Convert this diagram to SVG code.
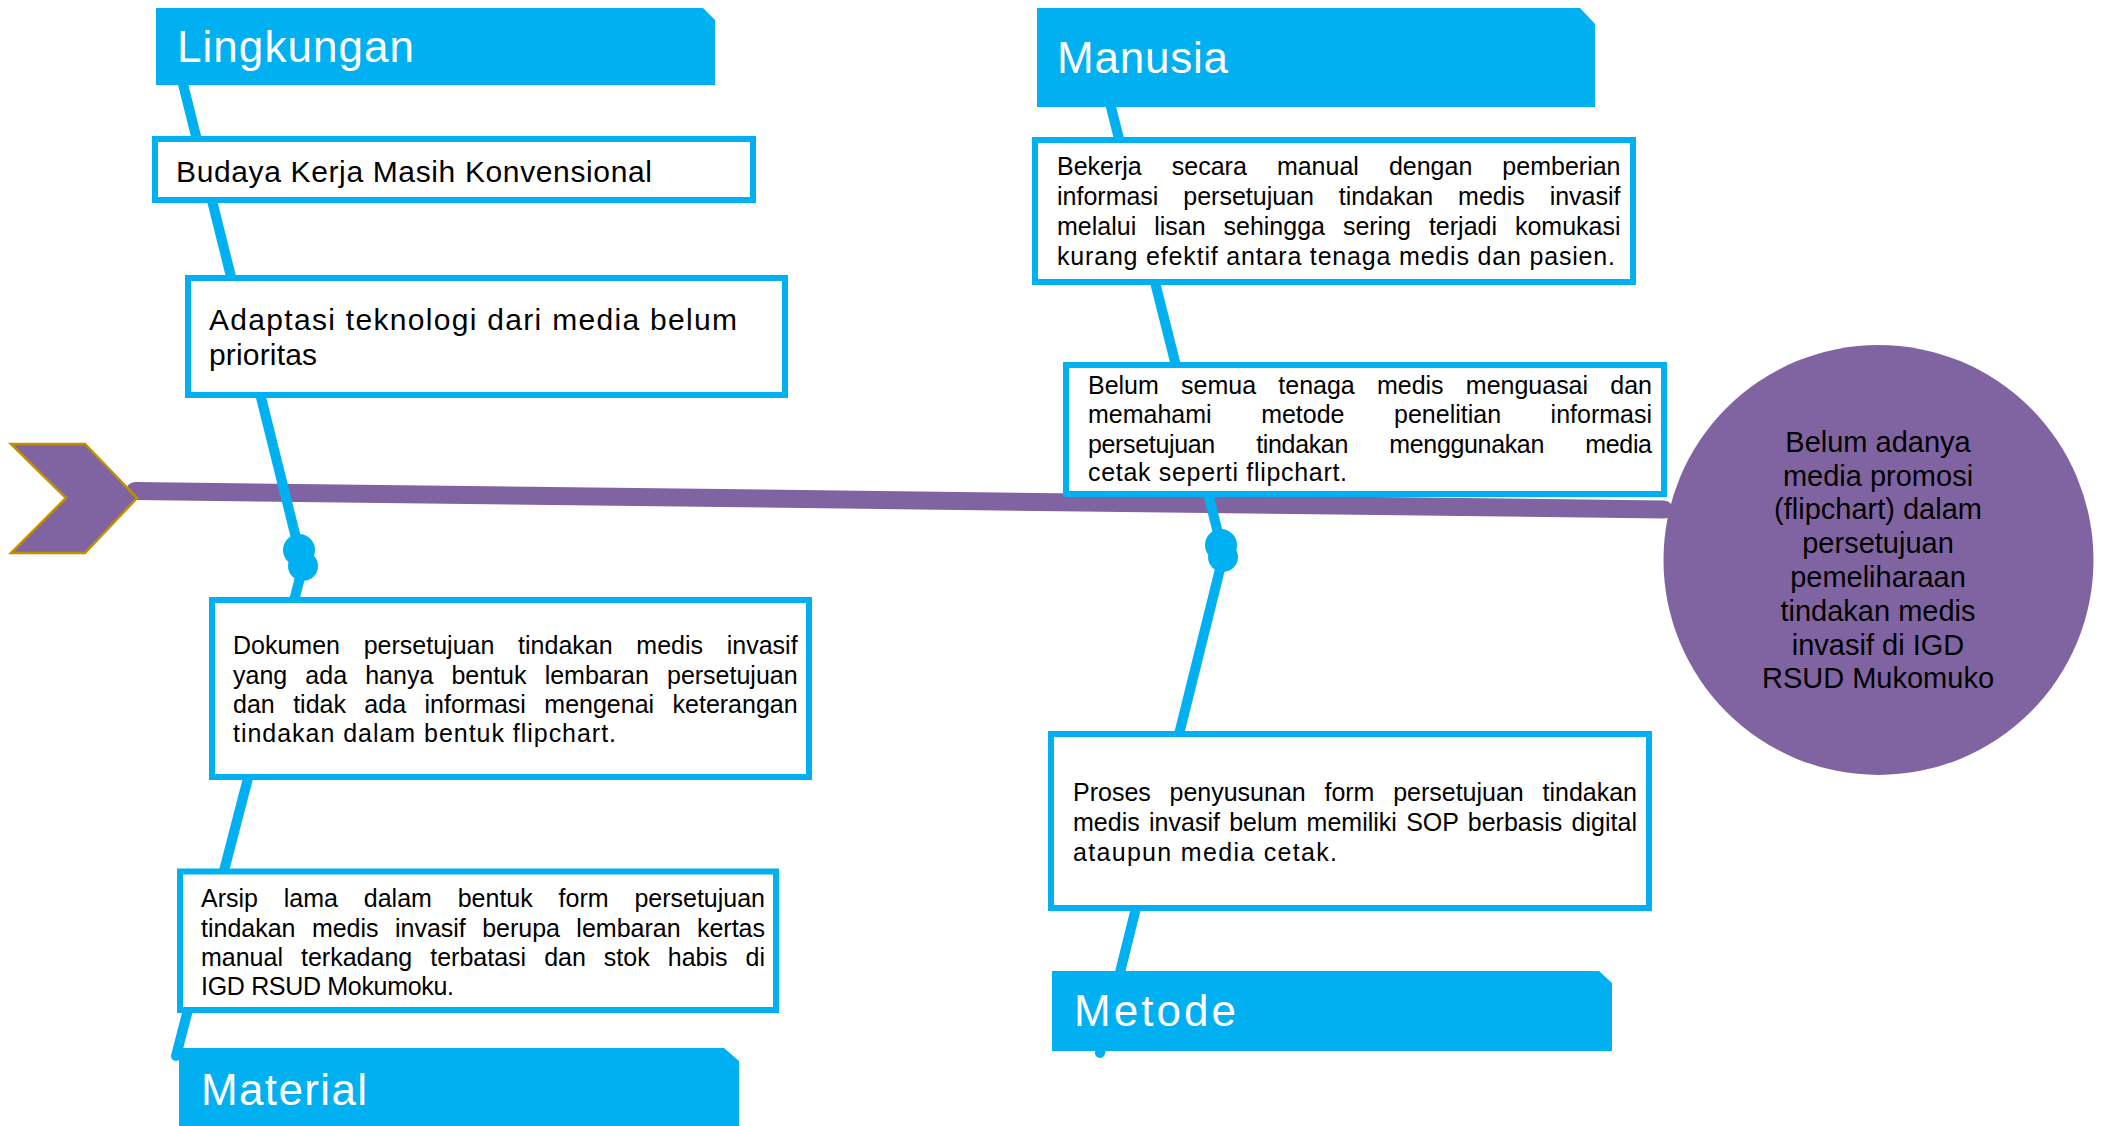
<svg xmlns="http://www.w3.org/2000/svg" width="2103" height="1126" viewBox="0 0 2103 1126">
<style>
.banner{fill:#00B0F0}
.bt{font-family:"Liberation Sans",Arial,sans-serif;font-size:44px;fill:#fff}
.box{fill:#fff;stroke:#00B0F0;stroke-width:6}
.tx{font-family:"Liberation Sans",Arial,sans-serif;font-size:25px;fill:#000}
.tx30{font-family:"Liberation Sans",Arial,sans-serif;font-size:30px;fill:#000}
.bone{stroke:#00B0F0;stroke-width:10;stroke-linecap:round;fill:none}
.dot{fill:#00B0F0}
.ct{font-family:"Liberation Sans",Arial,sans-serif;font-size:29px;fill:#000;text-anchor:middle}
</style>
<rect width="2103" height="1126" fill="#fff"/>
<g id="connectors">
<line x1="135" y1="491" x2="1664" y2="509.5" stroke="#8064A2" stroke-width="18" stroke-linecap="round"/>
<line class="bone" x1="183" y1="84" x2="299" y2="550"/>
<line class="bone" x1="303" y1="566" x2="176" y2="1056"/>
<line class="bone" x1="1111" y1="107" x2="1221" y2="545"/>
<line class="bone" x1="1223" y1="557" x2="1100" y2="1053"/>
<circle class="dot" cx="299" cy="550" r="16"/>
<circle class="dot" cx="303" cy="566" r="15"/>
<circle class="dot" cx="1221" cy="545" r="16"/>
<circle class="dot" cx="1223" cy="557" r="15"/>
</g>
<g id="tail">
<polygon points="11,444 85,444 137,498 85,553 11,553 66,498" fill="#8064A2" stroke="#BF9000" stroke-width="2.5"/>
</g>
<g id="head">
<circle cx="1878.5" cy="560" r="215" fill="#8064A2"/>
<text class="ct"><tspan x="1878" y="452">Belum adanya</tspan><tspan x="1878" y="486">media promosi</tspan><tspan x="1878" y="519">(flipchart) dalam</tspan><tspan x="1878" y="553">persetujuan</tspan><tspan x="1878" y="587">pemeliharaan</tspan><tspan x="1878" y="621">tindakan medis</tspan><tspan x="1878" y="655">invasif di IGD</tspan><tspan x="1878" y="688">RSUD Mukomuko</tspan></text>
</g>
<g id="lingkungan">
<polygon class="banner" points="156,8 703,8 715,20 715,85 156,85"/>
<text class="bt" x="177" y="62" textLength="237" lengthAdjust="spacing">Lingkungan</text>
</g>
<g id="budaya">
<rect class="box" x="155" y="139" width="598" height="61"/>
<text class="tx30" x="176" y="182" textLength="476" lengthAdjust="spacing">Budaya Kerja Masih Konvensional</text>
</g>
<g id="adaptasi">
<rect class="box" x="188" y="278" width="597" height="117"/>
<text class="tx30" x="209" y="330" textLength="528" lengthAdjust="spacing">Adaptasi teknologi dari media belum</text>
<text class="tx30" x="209" y="365" textLength="108" lengthAdjust="spacing">prioritas</text>
</g>
<g id="dokumen">
<rect class="box" x="212" y="600" width="597" height="177"/>
<text class="tx" x="233" y="654" word-spacing="16.8" textLength="564.6" lengthAdjust="spacing">Dokumen persetujuan tindakan medis invasif</text>
<text class="tx" x="233" y="683.5" word-spacing="11.2" textLength="564.6" lengthAdjust="spacing">yang ada hanya bentuk lembaran persetujuan</text>
<text class="tx" x="233" y="713" word-spacing="11.5" textLength="564.6" lengthAdjust="spacing">dan tidak ada informasi mengenai keterangan</text>
<text class="tx" x="233" y="742" textLength="383" lengthAdjust="spacing">tindakan dalam bentuk flipchart.</text>
</g>
<g id="arsip">
<rect class="box" x="180" y="871.5" width="596" height="138.5"/>
<text class="tx" x="201" y="907" word-spacing="18.9" textLength="564" lengthAdjust="spacing">Arsip lama dalam bentuk form persetujuan</text>
<text class="tx" x="201" y="936.5" word-spacing="9.4" textLength="564" lengthAdjust="spacing">tindakan medis invasif berupa lembaran kertas</text>
<text class="tx" x="201" y="966" word-spacing="11.1" textLength="564" lengthAdjust="spacing">manual terkadang terbatasi dan stok habis di</text>
<text class="tx" x="201" y="995" textLength="253" lengthAdjust="spacing">IGD RSUD Mokumoku.</text>
</g>
<g id="material">
<polygon class="banner" points="179,1048 724,1048 739,1061 739,1130 179,1130"/>
<text class="bt" x="201" y="1105" textLength="166" lengthAdjust="spacing">Material</text>
</g>
<g id="manusia">
<polygon class="banner" points="1037,8 1580,8 1595,24 1595,107 1037,107"/>
<text class="bt" x="1057" y="73" textLength="171" lengthAdjust="spacing">Manusia</text>
</g>
<g id="bekerja">
<rect class="box" x="1035" y="140" width="598" height="142"/>
<text class="tx" x="1057" y="175" word-spacing="23.1" textLength="563.5" lengthAdjust="spacing">Bekerja secara manual dengan pemberian</text>
<text class="tx" x="1057" y="205" word-spacing="17.9" textLength="563.5" lengthAdjust="spacing">informasi persetujuan tindakan medis invasif</text>
<text class="tx" x="1057" y="235" word-spacing="11" textLength="563.5" lengthAdjust="spacing">melalui lisan sehingga sering terjadi komukasi</text>
<text class="tx" x="1057" y="265" textLength="558" lengthAdjust="spacing">kurang efektif antara tenaga medis dan pasien.</text>
</g>
<g id="belum">
<rect class="box" x="1066" y="365" width="598" height="129"/>
<text class="tx" x="1088" y="394" word-spacing="15.3" textLength="564" lengthAdjust="spacing">Belum semua tenaga medis menguasai dan</text>
<text class="tx" x="1088" y="423" word-spacing="42.6" textLength="564" lengthAdjust="spacing">memahami metode penelitian informasi</text>
<text class="tx" x="1088" y="452.5" word-spacing="34.7" textLength="564" lengthAdjust="spacing">persetujuan tindakan menggunakan media</text>
<text class="tx" x="1088" y="481" textLength="259" lengthAdjust="spacing">cetak seperti flipchart.</text>
</g>
<g id="proses">
<rect class="box" x="1051" y="734" width="598" height="174"/>
<text class="tx" x="1073" y="801" word-spacing="11.8" textLength="564" lengthAdjust="spacing">Proses penyusunan form persetujuan tindakan</text>
<text class="tx" x="1073" y="831" word-spacing="2.3" textLength="564" lengthAdjust="spacing">medis invasif belum memiliki SOP berbasis digital</text>
<text class="tx" x="1073" y="861" textLength="264" lengthAdjust="spacing">ataupun media cetak.</text>
</g>
<g id="metode">
<polygon class="banner" points="1052,971 1599,971 1612,983 1612,1051 1052,1051"/>
<text class="bt" x="1074" y="1026" textLength="162" lengthAdjust="spacing">Metode</text>
</g>
</svg>
